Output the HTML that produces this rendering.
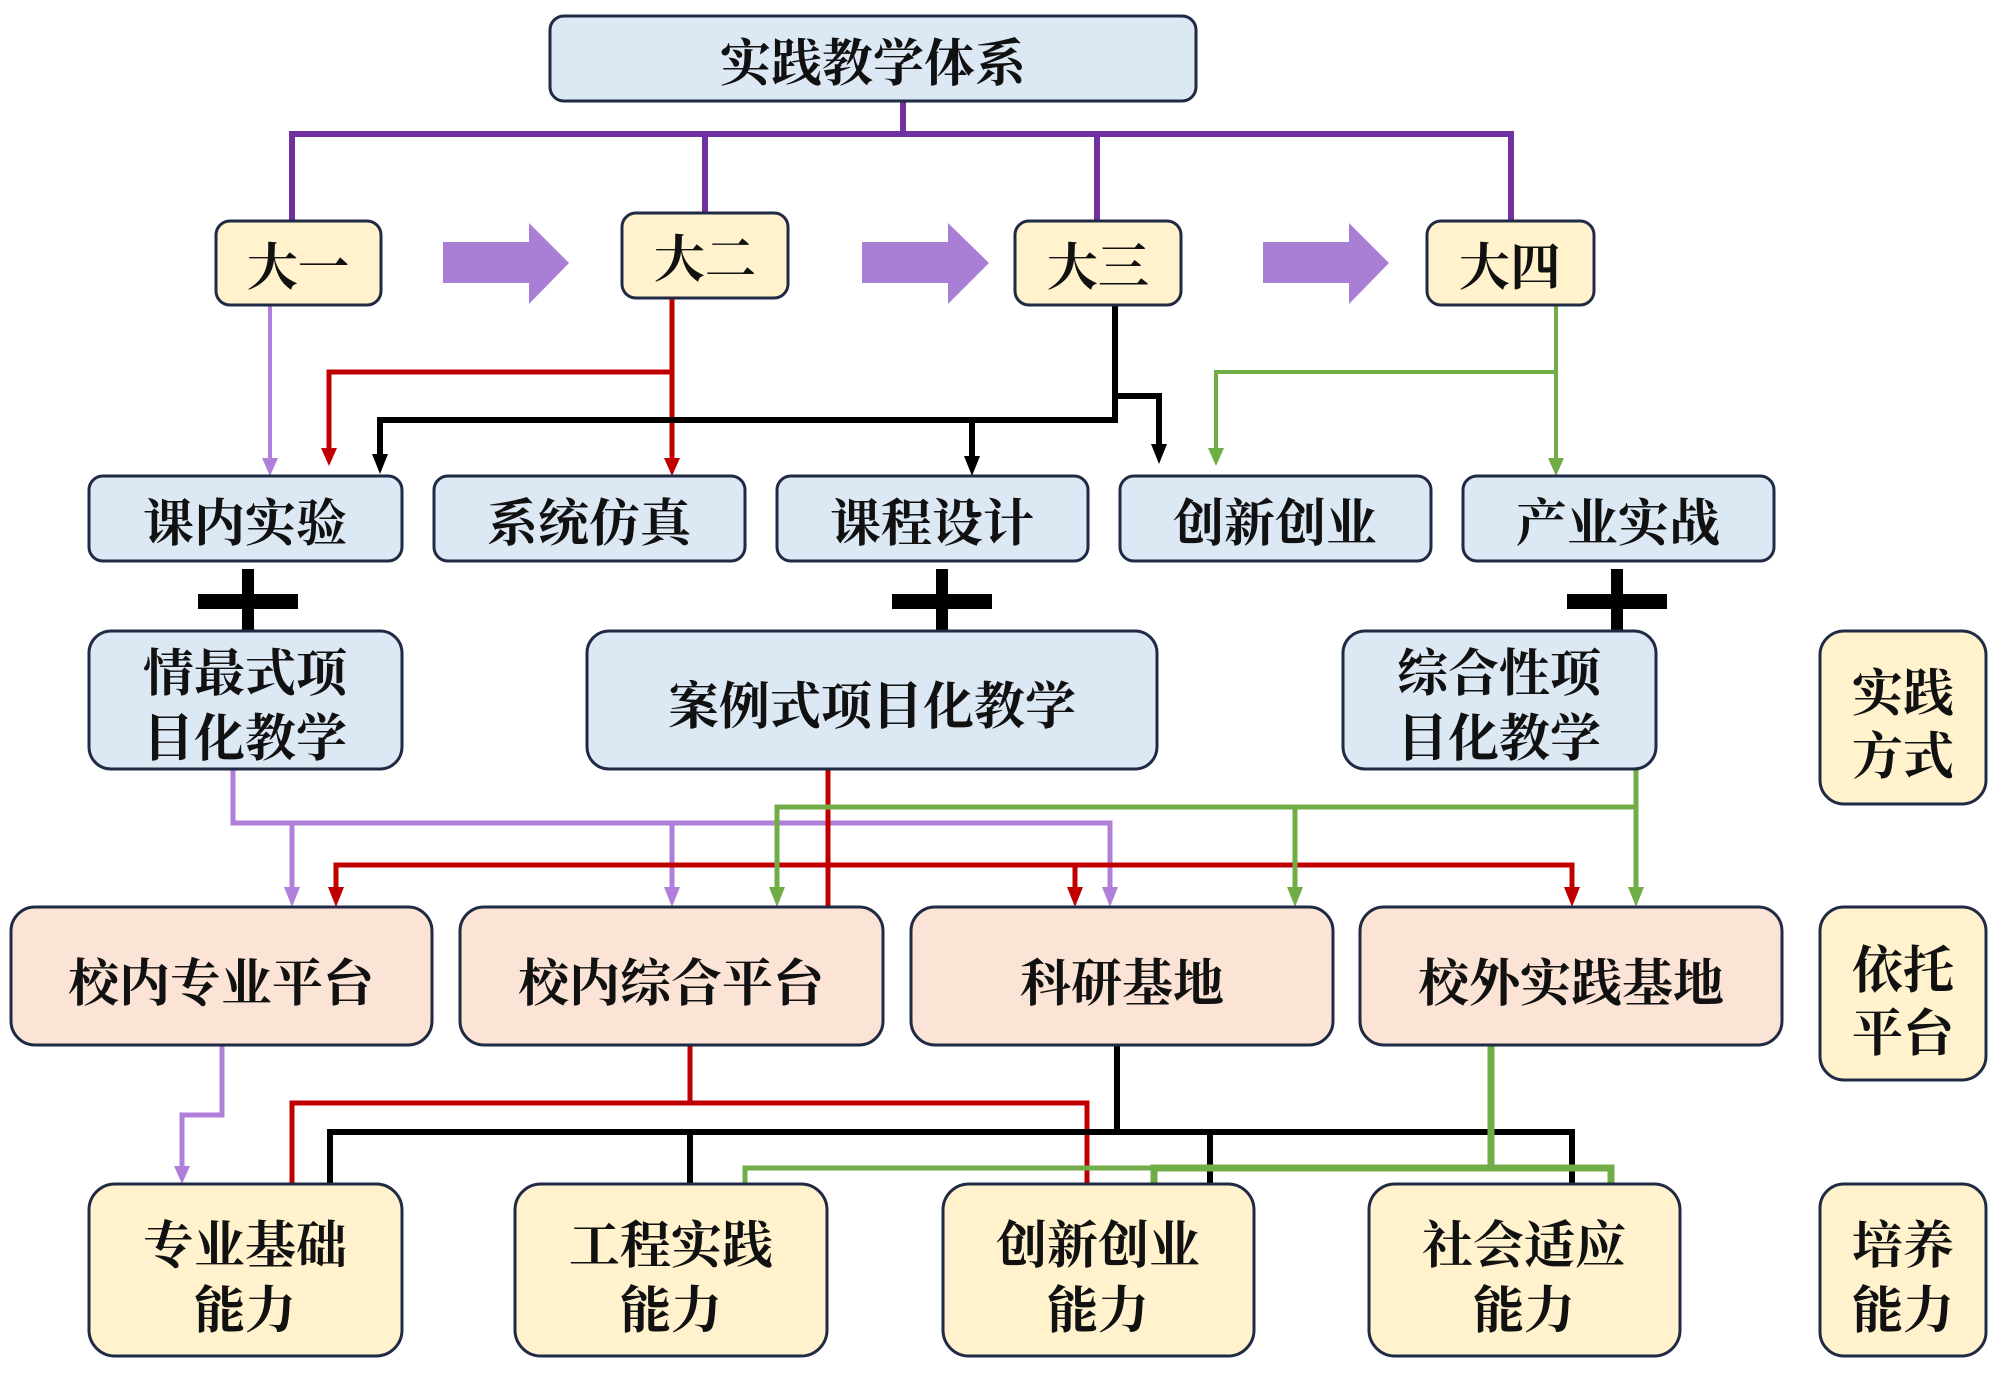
<!DOCTYPE html>
<html><head><meta charset="utf-8"><style>
html,body{margin:0;padding:0;background:#fff}
svg{display:block}
text{font-family:"Liberation Serif","Noto Serif CJK SC",serif;font-weight:700;font-size:51px;fill:#111;text-anchor:middle;dominant-baseline:central}
</style></head><body>
<svg width="2000" height="1379" viewBox="0 0 2000 1379" xmlns="http://www.w3.org/2000/svg">
<g fill="none" stroke-linejoin="miter">
<path d="M903 101V134M292 221V134H1511V221M705 134V213M1097 134V221" stroke="#7030a0" stroke-width="6"/>
<path d="M270 305V462" stroke="#b07fd9" stroke-width="4"/>
<path d="M672 298V462M672 372H329V452" stroke="#c00000" stroke-width="5"/>
<path d="M1115 305V420H380V456M972 420V460M1115 396H1159V448" stroke="#000" stroke-width="6"/>
<path d="M1556 305V462M1556 372H1216V452" stroke="#70ad47" stroke-width="4"/>
<path d="M233 769V823H1110V893M292 823V893M672 823V893" stroke="#b07fd9" stroke-width="5"/>
<path d="M828 769V907M336 893V865H1572V893M1075 865V893" stroke="#c00000" stroke-width="5"/>
<path d="M1636 769V893M1636 807H777V893M1295 807V893" stroke="#70ad47" stroke-width="5"/>
<path d="M222 1045V1115H182V1170" stroke="#b07fd9" stroke-width="5"/>
<path d="M690 1045V1103M292 1184V1103H1087V1184" stroke="#c00000" stroke-width="5"/>
<path d="M1117 1045V1132M330 1184V1132H1572V1184M690 1132V1184M1210 1132V1184" stroke="#000" stroke-width="6"/>
<path d="M745 1184V1168H1154" stroke="#70ad47" stroke-width="5"/>
<path d="M1491 1045V1168M1154 1184V1168H1611V1184" stroke="#70ad47" stroke-width="7"/>
</g>
<g>
<polygon points="262,458 278,458 270,476" fill="#b07fd9"/>
<polygon points="664,458 680,458 672,476" fill="#c00000"/>
<polygon points="321,448 337,448 329,466" fill="#c00000"/>
<polygon points="372,454 388,454 380,474" fill="#000"/>
<polygon points="964,456 980,456 972,476" fill="#000"/>
<polygon points="1151,444 1167,444 1159,464" fill="#000"/>
<polygon points="1548,458 1564,458 1556,476" fill="#70ad47"/>
<polygon points="1208,448 1224,448 1216,466" fill="#70ad47"/>
<polygon points="284,887 300,887 292,907" fill="#b07fd9"/>
<polygon points="664,887 680,887 672,907" fill="#b07fd9"/>
<polygon points="1102,887 1118,887 1110,907" fill="#b07fd9"/>
<polygon points="328,887 344,887 336,907" fill="#c00000"/>
<polygon points="1067,887 1083,887 1075,907" fill="#c00000"/>
<polygon points="1564,887 1580,887 1572,907" fill="#c00000"/>
<polygon points="769,887 785,887 777,907" fill="#70ad47"/>
<polygon points="1287,887 1303,887 1295,907" fill="#70ad47"/>
<polygon points="1628,887 1644,887 1636,907" fill="#70ad47"/>
<polygon points="174,1166 190,1166 182,1184" fill="#b07fd9"/>
</g>
<g fill="#a97fd6">
<polygon points="443,242 529,242 529,223 569,263 529,304 529,283 443,283"/>
<polygon points="862,242 948,242 948,223 989,263 948,304 948,283 862,283"/>
<polygon points="1263,242 1349,242 1349,223 1389,263 1349,304 1349,283 1263,283"/>
</g>
<g fill="#000">
<rect x="198" y="594" width="100" height="15"/><rect x="242" y="569" width="12" height="62"/>
<rect x="892" y="594" width="100" height="15"/><rect x="936" y="569" width="12" height="62"/>
<rect x="1567" y="594" width="100" height="15"/><rect x="1611" y="569" width="12" height="62"/>
</g>
<g stroke="#1f2a44" stroke-width="3">
<rect x="550" y="16" width="646" height="85" rx="14" fill="#dde8f5"/>
<rect x="216" y="221" width="165" height="84" rx="14" fill="#fff2cc"/>
<rect x="622" y="213" width="166" height="85" rx="14" fill="#fff2cc"/>
<rect x="1015" y="221" width="166" height="84" rx="14" fill="#fff2cc"/>
<rect x="1427" y="221" width="167" height="84" rx="14" fill="#fff2cc"/>
<rect x="89" y="476" width="313" height="85" rx="14" fill="#dde8f5"/>
<rect x="434" y="476" width="311" height="85" rx="14" fill="#dde8f5"/>
<rect x="777" y="476" width="311" height="85" rx="14" fill="#dde8f5"/>
<rect x="1120" y="476" width="311" height="85" rx="14" fill="#dde8f5"/>
<rect x="1463" y="476" width="311" height="85" rx="14" fill="#dde8f5"/>
<rect x="89" y="631" width="313" height="138" rx="22" fill="#dde8f5"/>
<rect x="587" y="631" width="570" height="138" rx="22" fill="#dde8f5"/>
<rect x="1343" y="631" width="313" height="138" rx="22" fill="#dde8f5"/>
<rect x="1820" y="631" width="166" height="173" rx="24" fill="#fff2cc"/>
<rect x="11" y="907" width="421" height="138" rx="24" fill="#fbe4d5"/>
<rect x="460" y="907" width="423" height="138" rx="24" fill="#fbe4d5"/>
<rect x="911" y="907" width="422" height="138" rx="24" fill="#fbe4d5"/>
<rect x="1360" y="907" width="422" height="138" rx="24" fill="#fbe4d5"/>
<rect x="1820" y="907" width="166" height="173" rx="24" fill="#fff2cc"/>
<rect x="89" y="1184" width="313" height="172" rx="26" fill="#fff2cc"/>
<rect x="515" y="1184" width="312" height="172" rx="26" fill="#fff2cc"/>
<rect x="943" y="1184" width="311" height="172" rx="26" fill="#fff2cc"/>
<rect x="1369" y="1184" width="311" height="172" rx="26" fill="#fff2cc"/>
<rect x="1820" y="1184" width="166" height="172" rx="24" fill="#fff2cc"/>
</g>
<text x="873" y="65">实践教学体系</text>
<text x="298" y="269">大一</text>
<text x="705" y="261">大二</text>
<text x="1098" y="269">大三</text>
<text x="1510" y="269">大四</text>
<text x="245" y="525">课内实验</text>
<text x="589" y="525">系统仿真</text>
<text x="932" y="525">课程设计</text>
<text x="1275" y="525">创新创业</text>
<text x="1618" y="525">产业实战</text>
<text x="245" y="675">情最式项</text>
<text x="245" y="740">目化教学</text>
<text x="872" y="708">案例式项目化教学</text>
<text x="1499" y="675">综合性项</text>
<text x="1499" y="740">目化教学</text>
<text x="1903" y="695">实践</text>
<text x="1903" y="758">方式</text>
<text x="221" y="985">校内专业平台</text>
<text x="671" y="985">校内综合平台</text>
<text x="1122" y="985">科研基地</text>
<text x="1571" y="985">校外实践基地</text>
<text x="1903" y="972">依托</text>
<text x="1903" y="1035">平台</text>
<text x="245" y="1247">专业基础</text>
<text x="245" y="1312">能力</text>
<text x="671" y="1247">工程实践</text>
<text x="671" y="1312">能力</text>
<text x="1098" y="1247">创新创业</text>
<text x="1098" y="1312">能力</text>
<text x="1524" y="1247">社会适应</text>
<text x="1524" y="1312">能力</text>
<text x="1903" y="1247">培养</text>
<text x="1903" y="1312">能力</text>
</svg>
</body></html>
